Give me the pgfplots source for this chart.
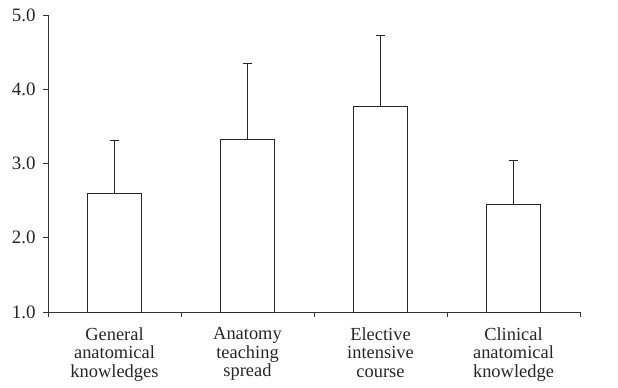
\documentclass[border=0pt]{standalone}
\usepackage{fontspec}
\setmainfont{Liberation Serif}
\usepackage{pgfplots}
\pgfplotsset{compat=1.18}
\begin{document}
\fontsize{18.5}{18.7}\selectfont
\begin{tikzpicture}
\begin{axis}[
  scale only axis,
  width=532bp, height=297bp,
  xmin=0, xmax=4, ymin=1, ymax=5,
  axis lines=left,
  axis line style={-, line width=0.9bp, black!80},
  every tick/.style={line width=0.9bp, black!80},
  tick align=outside,
  major tick length=5bp,
  xtick={0,1,2,3,4},
  xticklabels={},
  extra x ticks={0.5,1.5,2.5,3.5},
  extra x tick labels={General\\anatomical\\knowledges, Anatomy\\teaching\\spread, Elective\\intensive\\course, Clinical\\anatomical\\knowledge},
  extra x tick style={major tick length=0pt, tick label style={align=center, font=\fontsize{18.5}{18.7}\selectfont, yshift=-9bp}},
  ytick={1,2,3,4,5},
  yticklabel style={/pgf/number format/fixed, /pgf/number format/fixed zerofill, /pgf/number format/precision=1, /pgf/number format/assume math mode=true, font=\fontsize{19}{19}\selectfont, xshift=-1bp},
  tick label style={text=black!85},
  clip=false,
]
\addplot[ybar, bar width=54bp, fill=white, draw=black!85, line width=0.9bp,
  error bars/.cd, y dir=plus, y explicit,
  error bar style={line width=0.9bp, black!85},
  error mark options={rotate=90, mark size=4.5bp, line width=0.9bp, black!85}]
  coordinates {
  (0.5,2.60) +- (0,0.71)
  (1.5,3.33) +- (0,1.02)
  (2.5,3.77) +- (0,0.95)
  (3.5,2.45) +- (0,0.59)
};
\end{axis}
\pgfresetboundingbox
\path (-48bp,-76bp) rectangle (570bp,312bp);
\end{tikzpicture}
\end{document}
